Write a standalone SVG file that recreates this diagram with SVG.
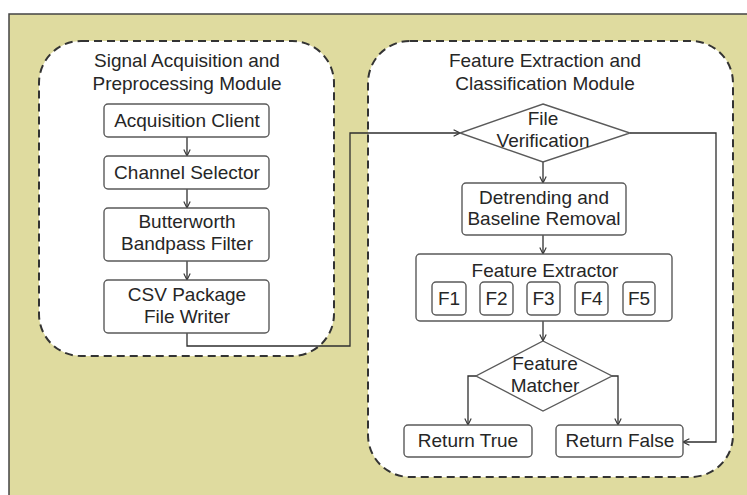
<svg xmlns="http://www.w3.org/2000/svg" width="747" height="495" viewBox="0 0 747 495">
  <defs>
    <marker id="arrow" viewBox="0 0 10 10" refX="9" refY="5" markerWidth="8" markerHeight="8" markerUnits="userSpaceOnUse" orient="auto">
      <path d="M1,1 L9,5 L1,9" fill="none" stroke="#333" stroke-width="1.4"/>
    </marker>
  </defs>
  <style>
    text { font-family: "Liberation Sans", Arial, sans-serif; fill: #262626; text-anchor: middle; font-size: 19px; }
    .module { fill: #ffffff; stroke: #333333; stroke-width: 2; stroke-dasharray: 8 5; }
    .box { fill: #ffffff; stroke: #5a5a5a; stroke-width: 1.4; }
    .edge { fill: none; stroke: #2f2f2f; stroke-width: 1.3; }
  </style>

  <!-- background panel -->
  <rect x="9" y="14" width="745" height="490" fill="#dfdb9f" stroke="#444444" stroke-width="1.5"/>

  <!-- module containers -->
  <g id="module-acquisition">
    <rect class="module" x="39" y="41" width="295" height="315" rx="42" ry="42"/>
    <text x="187" y="67">Signal Acquisition and</text>
    <text x="187" y="90">Preprocessing Module</text>
  </g>
  <g id="module-classification">
    <rect class="module" x="368" y="41" width="365" height="436" rx="42" ry="42"/>
    <text x="545" y="67">Feature Extraction and</text>
    <text x="545" y="90">Classification Module</text>
  </g>

  <!-- connectors -->
  <g id="connectors">
    <line class="edge" x1="187" y1="137" x2="187" y2="156" marker-end="url(#arrow)"/>
    <line class="edge" x1="187" y1="189" x2="187" y2="208" marker-end="url(#arrow)"/>
    <line class="edge" x1="187" y1="261" x2="187" y2="280" marker-end="url(#arrow)"/>
    <polyline class="edge" points="187,333 187,346 350,346 350,133 460,133" marker-end="url(#arrow)"/>
    <line class="edge" x1="543" y1="162" x2="543" y2="183" marker-end="url(#arrow)"/>
    <polyline class="edge" points="630,133 716,133 716,442 683,442" marker-end="url(#arrow)"/>
    <line class="edge" x1="543" y1="235" x2="543" y2="254" marker-end="url(#arrow)"/>
    <line class="edge" x1="543" y1="321" x2="543" y2="341" marker-end="url(#arrow)"/>
    <polyline class="edge" points="476,376 468,376 468,425" marker-end="url(#arrow)"/>
    <polyline class="edge" points="612,376 618,376 618,425" marker-end="url(#arrow)"/>
  </g>

  <!-- acquisition pipeline -->
  <g id="acquisition-client">
    <rect class="box" x="104" y="104" width="165" height="33" rx="4"/>
    <text x="187" y="127">Acquisition Client</text>
  </g>
  <g id="channel-selector">
    <rect class="box" x="104" y="156" width="165" height="33" rx="4"/>
    <text x="187" y="179">Channel Selector</text>
  </g>
  <g id="butterworth-filter">
    <rect class="box" x="104" y="208" width="165" height="53" rx="4"/>
    <text x="187" y="228">Butterworth</text>
    <text x="187" y="250">Bandpass Filter</text>
  </g>
  <g id="csv-writer">
    <rect class="box" x="104" y="280" width="165" height="53" rx="4"/>
    <text x="187" y="301">CSV Package</text>
    <text x="187" y="323">File Writer</text>
  </g>

  <!-- classification pipeline -->
  <g id="file-verification">
    <polygon class="box" points="543,104 630,133 543,162 460,133"/>
    <text x="543" y="125">File</text>
    <text x="543" y="147">Verification</text>
  </g>
  <g id="detrending">
    <rect class="box" x="462" y="183" width="164" height="52" rx="4"/>
    <text x="544" y="204">Detrending and</text>
    <text x="544" y="225">Baseline Removal</text>
  </g>
  <g id="feature-extractor">
    <rect class="box" x="416" y="254" width="256" height="67" rx="4"/>
    <text x="545" y="277">Feature Extractor</text>
    <rect class="box" x="432" y="282" width="34" height="33" rx="4"/>
    <text x="449" y="305">F1</text>
    <rect class="box" x="480" y="282" width="33" height="33" rx="4"/>
    <text x="496.5" y="305">F2</text>
    <rect class="box" x="527" y="282" width="33" height="33" rx="4"/>
    <text x="543.5" y="305">F3</text>
    <rect class="box" x="575" y="282" width="33" height="33" rx="4"/>
    <text x="591.5" y="305">F4</text>
    <rect class="box" x="623" y="282" width="32" height="33" rx="4"/>
    <text x="639" y="305">F5</text>
  </g>
  <g id="feature-matcher">
    <polygon class="box" points="543,341 612,376 543,411 476,376"/>
    <text x="545" y="370">Feature</text>
    <text x="545" y="392">Matcher</text>
  </g>
  <g id="return-true">
    <rect class="box" x="404" y="425" width="128" height="32" rx="4"/>
    <text x="468" y="447">Return True</text>
  </g>
  <g id="return-false">
    <rect class="box" x="556" y="425" width="127" height="32" rx="4"/>
    <text x="620" y="447">Return False</text>
  </g>
</svg>
